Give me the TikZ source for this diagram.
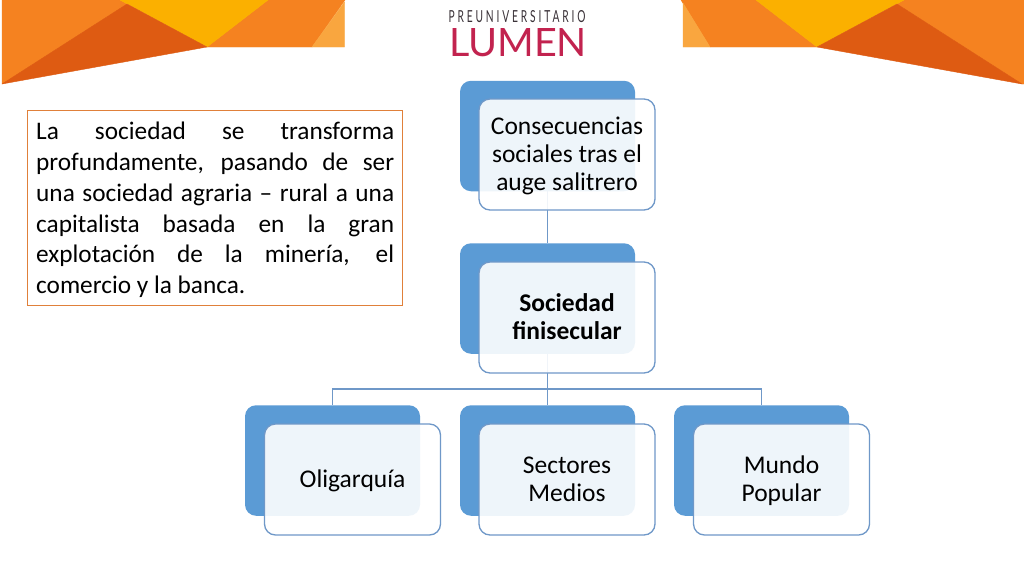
\documentclass[tikz,border=0pt]{standalone}
\usepackage{fontspec}
\setmainfont{Carlito}
\definecolor{lumen}{HTML}{C2234F}
\definecolor{logodark}{HTML}{3A3238}
\definecolor{orA}{HTML}{F58220}
\definecolor{orB}{HTML}{DE5B12}
\definecolor{orC}{HTML}{FBB000}
\definecolor{orD}{HTML}{F9A63F}
\definecolor{boxblue}{HTML}{5B9BD5}
\definecolor{linkblue}{HTML}{6F98C8}
\definecolor{noteline}{HTML}{E0803A}
\newcommand\lnstrut{\rule[-6.4pt]{0pt}{28pt}}
\tikzset{
  x=1pt,y=-1pt,
  facet/.style={fill=#1,draw=#1,line width=0.4pt,line join=round},
  backbox/.style={rectangle,rounded corners=11pt,fill=boxblue,minimum width=175pt,minimum height=110.5pt,inner sep=0pt},
  frontbox/.style={rectangle,rounded corners=11pt,draw=linkblue,line width=1.3pt,fill=white,fill opacity=0.9,text opacity=1,minimum width=176pt,minimum height=111pt,inner sep=0pt,align=center,font=\fontsize{25.5}{28}\selectfont,text=black},
  link/.style={draw=linkblue,line width=1.3pt},
  notebox/.style={rectangle,draw=noteline,line width=0.8pt,minimum width=375pt,minimum height=195pt,inner sep=0pt}
}
\begin{document}
\begin{tikzpicture}
\useasboundingbox (0,0) rectangle (1024,576);
\fill[white] (0,0) rectangle (1024,576);
% top-left banner
\path[facet=orA] (2,0) -- (120,0) -- (127,4) -- (2,84) -- cycle;
\path[facet=orA] (268,0) -- (345,0) -- (312,47) -- (207,47) -- cycle;
\path[facet=orD] (344.5,2) -- (344.5,47) -- (312,47) -- cycle;
\path[facet=orC] (120,0) -- (268,0) -- (207,47) -- cycle;
\path[facet=orB] (2,84) -- (127,4) -- (207,47) -- cycle;
% top-right banner
\path[facet=orA] (681,0) -- (756,0) -- (817,47) -- (710,47) -- cycle;
\path[facet=orD] (683,3) -- (710,47) -- (683,47) -- cycle;
\path[facet=orA] (897,4) -- (904,0) -- (1024,0) -- (1024,84) -- (1022,84) -- cycle;
\path[facet=orC] (756,0) -- (904,0) -- (817,47) -- cycle;
\path[facet=orB] (817,47) -- (897,4) -- (1022,84) -- cycle;
% logo
\node[inner sep=0pt,text=logodark] (logoA) at (517,17) {\resizebox{137pt}{12pt}{\fontspec{Lato}[LetterSpace=28]PREUNIVERSITARIO}};
\node[inner sep=0pt,text=lumen] (logoB) at (518,42.5) {\resizebox{138pt}{28pt}{\fontspec{Lato}LUMEN}};
% note
\node[notebox] (note) at (214.5,207.5) {};
\node[inner sep=0pt,anchor=north west,font=\fontsize{25.3}{30.8}\selectfont] (notetext) at (36,122) {\parbox[t]{358pt}{\emergencystretch=60pt La sociedad se transforma\linebreak profundamente, pasando de ser\linebreak una sociedad agraria – rural a una\linebreak capitalista basada en la gran\linebreak explotación de la minería, el\linebreak comercio y la banca.}};
% back boxes
\node[backbox] (b1) at (547.5,136) {};
\node[backbox] (b2) at (547.5,298.5) {};
\node[backbox] (b3) at (332.5,460.5) {};
\node[backbox] (b4) at (547.5,460.5) {};
\node[backbox] (b5) at (761.5,460.5) {};
% connectors
\coordinate (j) at (547.5,389);
\draw[link] (b1.south) -- (b2.north);
\draw[link] (b2.south) -- (j);
\draw[link] (j) -- (j -| b3.north) -- (b3.north);
\draw[link] (j) -- (b4.north);
\draw[link] (j) -- (j -| b5.north) -- (b5.north);
% front boxes
\node[frontbox] (f1) at (567,154.5) {\lnstrut Consecuencias\\\lnstrut sociales tras el\\\lnstrut auge salitrero};
\node[frontbox] (f2) at (567,317.5) {\lnstrut\bfseries Sociedad\\\lnstrut\bfseries finisecular};
\node[frontbox] (f3) at (352.5,479.5) {\lnstrut Oligarquía};
\node[frontbox] (f4) at (567,479.5) {\lnstrut Sectores\\\lnstrut Medios};
\node[frontbox] (f5) at (781.5,479.5) {\lnstrut Mundo\\\lnstrut Popular};
\end{tikzpicture}
\end{document}
